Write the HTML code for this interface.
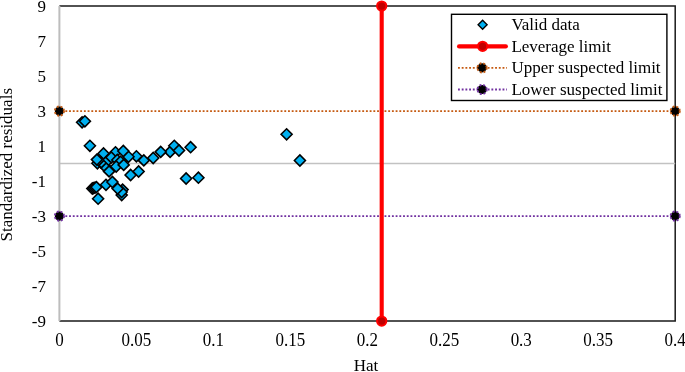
<!DOCTYPE html>
<html><head><meta charset="utf-8"><style>
html,body{margin:0;padding:0;background:#fff;width:685px;height:372px;overflow:hidden}
svg{display:block;-webkit-font-smoothing:antialiased;will-change:transform;font-family:"Liberation Serif",serif;fill:#000}
text{fill:#000}
</style></head><body>
<svg width="685" height="372" viewBox="0 0 685 372">
<rect width="685" height="372" fill="#fff"/>
<path d="M59.40 6.10 H675.20 V321.10 H59.40" fill="none" stroke="#1a1a1a" stroke-width="1.5"/>
<line x1="59.4" y1="163.5" x2="675.2" y2="163.5" stroke="#c2c2c2" stroke-width="1.5"/>
<line x1="59.4" y1="6.10" x2="59.4" y2="321.10" stroke="#bdbdbd" stroke-width="2"/>
<line x1="59.4" y1="111.10" x2="675.2" y2="111.10" stroke="#c55a11" stroke-width="1.9" stroke-dasharray="1.86 1.851" stroke-dashoffset="1.46"/>
<line x1="59.4" y1="216.10" x2="675.2" y2="216.10" stroke="#7030a0" stroke-width="1.9" stroke-dasharray="1.86 1.851" stroke-dashoffset="1.46"/>
<path d="M76.60 122.30 L82.10 116.80 L87.60 122.30 L82.10 127.80Z" fill="#00b0f0" stroke="#000" stroke-width="1.6" stroke-linejoin="miter"/>
<path d="M79.40 121.30 L84.90 115.80 L90.40 121.30 L84.90 126.80Z" fill="#00b0f0" stroke="#000" stroke-width="1.6" stroke-linejoin="miter"/>
<path d="M84.40 145.80 L89.90 140.30 L95.40 145.80 L89.90 151.30Z" fill="#00b0f0" stroke="#000" stroke-width="1.6" stroke-linejoin="miter"/>
<path d="M281.10 134.30 L286.60 128.80 L292.10 134.30 L286.60 139.80Z" fill="#00b0f0" stroke="#000" stroke-width="1.6" stroke-linejoin="miter"/>
<path d="M294.40 160.50 L299.90 155.00 L305.40 160.50 L299.90 166.00Z" fill="#00b0f0" stroke="#000" stroke-width="1.6" stroke-linejoin="miter"/>
<path d="M180.60 178.50 L186.10 173.00 L191.60 178.50 L186.10 184.00Z" fill="#00b0f0" stroke="#000" stroke-width="1.6" stroke-linejoin="miter"/>
<path d="M192.90 177.70 L198.40 172.20 L203.90 177.70 L198.40 183.20Z" fill="#00b0f0" stroke="#000" stroke-width="1.6" stroke-linejoin="miter"/>
<path d="M185.10 147.20 L190.60 141.70 L196.10 147.20 L190.60 152.70Z" fill="#00b0f0" stroke="#000" stroke-width="1.6" stroke-linejoin="miter"/>
<path d="M164.60 151.90 L170.10 146.40 L175.60 151.90 L170.10 157.40Z" fill="#00b0f0" stroke="#000" stroke-width="1.6" stroke-linejoin="miter"/>
<path d="M168.80 145.80 L174.30 140.30 L179.80 145.80 L174.30 151.30Z" fill="#00b0f0" stroke="#000" stroke-width="1.6" stroke-linejoin="miter"/>
<path d="M173.50 150.50 L179.00 145.00 L184.50 150.50 L179.00 156.00Z" fill="#00b0f0" stroke="#000" stroke-width="1.6" stroke-linejoin="miter"/>
<path d="M155.20 151.90 L160.70 146.40 L166.20 151.90 L160.70 157.40Z" fill="#00b0f0" stroke="#000" stroke-width="1.6" stroke-linejoin="miter"/>
<path d="M147.70 158.00 L153.20 152.50 L158.70 158.00 L153.20 163.50Z" fill="#00b0f0" stroke="#000" stroke-width="1.6" stroke-linejoin="miter"/>
<path d="M138.30 160.40 L143.80 154.90 L149.30 160.40 L143.80 165.90Z" fill="#00b0f0" stroke="#000" stroke-width="1.6" stroke-linejoin="miter"/>
<path d="M130.90 156.30 L136.40 150.80 L141.90 156.30 L136.40 161.80Z" fill="#00b0f0" stroke="#000" stroke-width="1.6" stroke-linejoin="miter"/>
<path d="M123.00 156.80 L128.50 151.30 L134.00 156.80 L128.50 162.30Z" fill="#00b0f0" stroke="#000" stroke-width="1.6" stroke-linejoin="miter"/>
<path d="M110.00 152.30 L115.50 146.80 L121.00 152.30 L115.50 157.80Z" fill="#00b0f0" stroke="#000" stroke-width="1.6" stroke-linejoin="miter"/>
<path d="M117.80 151.00 L123.30 145.50 L128.80 151.00 L123.30 156.50Z" fill="#00b0f0" stroke="#000" stroke-width="1.6" stroke-linejoin="miter"/>
<path d="M98.00 153.50 L103.50 148.00 L109.00 153.50 L103.50 159.00Z" fill="#00b0f0" stroke="#000" stroke-width="1.6" stroke-linejoin="miter"/>
<path d="M91.90 163.30 L97.40 157.80 L102.90 163.30 L97.40 168.80Z" fill="#00b0f0" stroke="#000" stroke-width="1.6" stroke-linejoin="miter"/>
<path d="M95.60 162.70 L101.10 157.20 L106.60 162.70 L101.10 168.20Z" fill="#00b0f0" stroke="#000" stroke-width="1.6" stroke-linejoin="miter"/>
<path d="M98.90 165.40 L104.40 159.90 L109.90 165.40 L104.40 170.90Z" fill="#00b0f0" stroke="#000" stroke-width="1.6" stroke-linejoin="miter"/>
<path d="M101.00 168.10 L106.50 162.60 L112.00 168.10 L106.50 173.60Z" fill="#00b0f0" stroke="#000" stroke-width="1.6" stroke-linejoin="miter"/>
<path d="M103.60 171.40 L109.10 165.90 L114.60 171.40 L109.10 176.90Z" fill="#00b0f0" stroke="#000" stroke-width="1.6" stroke-linejoin="miter"/>
<path d="M91.40 159.60 L96.90 154.10 L102.40 159.60 L96.90 165.10Z" fill="#00b0f0" stroke="#000" stroke-width="1.6" stroke-linejoin="miter"/>
<path d="M103.10 159.80 L108.60 154.30 L114.10 159.80 L108.60 165.30Z" fill="#00b0f0" stroke="#000" stroke-width="1.6" stroke-linejoin="miter"/>
<path d="M105.80 157.40 L111.30 151.90 L116.80 157.40 L111.30 162.90Z" fill="#00b0f0" stroke="#000" stroke-width="1.6" stroke-linejoin="miter"/>
<path d="M111.80 160.00 L117.30 154.50 L122.80 160.00 L117.30 165.50Z" fill="#00b0f0" stroke="#000" stroke-width="1.6" stroke-linejoin="miter"/>
<path d="M115.00 161.70 L120.50 156.20 L126.00 161.70 L120.50 167.20Z" fill="#00b0f0" stroke="#000" stroke-width="1.6" stroke-linejoin="miter"/>
<path d="M110.70 166.50 L116.20 161.00 L121.70 166.50 L116.20 172.00Z" fill="#00b0f0" stroke="#000" stroke-width="1.6" stroke-linejoin="miter"/>
<path d="M118.20 164.90 L123.70 159.40 L129.20 164.90 L123.70 170.40Z" fill="#00b0f0" stroke="#000" stroke-width="1.6" stroke-linejoin="miter"/>
<path d="M125.10 175.00 L130.60 169.50 L136.10 175.00 L130.60 180.50Z" fill="#00b0f0" stroke="#000" stroke-width="1.6" stroke-linejoin="miter"/>
<path d="M133.10 171.50 L138.60 166.00 L144.10 171.50 L138.60 177.00Z" fill="#00b0f0" stroke="#000" stroke-width="1.6" stroke-linejoin="miter"/>
<path d="M86.80 188.50 L92.30 183.00 L97.80 188.50 L92.30 194.00Z" fill="#00b0f0" stroke="#000" stroke-width="1.6" stroke-linejoin="miter"/>
<path d="M88.10 188.10 L93.60 182.60 L99.10 188.10 L93.60 193.60Z" fill="#00b0f0" stroke="#000" stroke-width="1.6" stroke-linejoin="miter"/>
<path d="M89.50 187.60 L95.00 182.10 L100.50 187.60 L95.00 193.10Z" fill="#00b0f0" stroke="#000" stroke-width="1.6" stroke-linejoin="miter"/>
<path d="M90.90 187.10 L96.40 181.60 L101.90 187.10 L96.40 192.60Z" fill="#00b0f0" stroke="#000" stroke-width="1.6" stroke-linejoin="miter"/>
<path d="M100.50 184.80 L106.00 179.30 L111.50 184.80 L106.00 190.30Z" fill="#00b0f0" stroke="#000" stroke-width="1.6" stroke-linejoin="miter"/>
<path d="M106.90 182.00 L112.40 176.50 L117.90 182.00 L112.40 187.50Z" fill="#00b0f0" stroke="#000" stroke-width="1.6" stroke-linejoin="miter"/>
<path d="M116.20 195.10 L121.70 189.60 L127.20 195.10 L121.70 200.60Z" fill="#00b0f0" stroke="#000" stroke-width="1.6" stroke-linejoin="miter"/>
<path d="M117.10 189.60 L122.60 184.10 L128.10 189.60 L122.60 195.10Z" fill="#00b0f0" stroke="#000" stroke-width="1.6" stroke-linejoin="miter"/>
<path d="M116.10 192.00 L121.60 186.50 L127.10 192.00 L121.60 197.50Z" fill="#00b0f0" stroke="#000" stroke-width="1.6" stroke-linejoin="miter"/>
<path d="M112.10 188.60 L117.60 183.10 L123.10 188.60 L117.60 194.10Z" fill="#00b0f0" stroke="#000" stroke-width="1.6" stroke-linejoin="miter"/>
<path d="M92.60 198.70 L98.10 193.20 L103.60 198.70 L98.10 204.20Z" fill="#00b0f0" stroke="#000" stroke-width="1.6" stroke-linejoin="miter"/>
<circle cx="59.4" cy="111.10" r="4.6" fill="#000" stroke="#c55a11" stroke-width="1.9" stroke-dasharray="1.86 1.851"/>
<circle cx="675.2" cy="111.10" r="4.6" fill="#000" stroke="#c55a11" stroke-width="1.9" stroke-dasharray="1.86 1.851"/>
<circle cx="59.4" cy="216.10" r="4.6" fill="#000" stroke="#7030a0" stroke-width="1.9" stroke-dasharray="1.86 1.851"/>
<circle cx="675.2" cy="216.10" r="4.6" fill="#000" stroke="#7030a0" stroke-width="1.9" stroke-dasharray="1.86 1.851"/>
<line x1="381.7" y1="6.10" x2="381.7" y2="321.10" stroke="#ff0000" stroke-width="4.1"/>
<circle cx="381.7" cy="6.10" r="4.65" fill="#c00000" stroke="#ff0000" stroke-width="2"/>
<circle cx="381.7" cy="321.10" r="4.65" fill="#c00000" stroke="#ff0000" stroke-width="2"/>
<rect x="451.5" y="14.3" width="215.39999999999998" height="86.2" fill="#fff" stroke="#000" stroke-width="1.4"/>
<path d="M478.10 24.85 L482.60 20.35 L487.10 24.85 L482.60 29.35Z" fill="#00b0f0" stroke="#000" stroke-width="1.4"/>
<line x1="459.1" y1="46.4" x2="505.8" y2="46.4" stroke="#ff0000" stroke-width="4.3" stroke-linecap="round"/>
<circle cx="482.6" cy="46.3" r="4.65" fill="#c00000" stroke="#ff0000" stroke-width="2"/>
<line x1="458.0" y1="67.85" x2="507" y2="67.85" stroke="#c55a11" stroke-width="1.9" stroke-dasharray="1.86 1.851"/>
<circle cx="482.1" cy="67.85" r="4.6" fill="#000" stroke="#c55a11" stroke-width="1.9" stroke-dasharray="1.86 1.851"/>
<line x1="458.0" y1="89.5" x2="507" y2="89.5" stroke="#7030a0" stroke-width="1.9" stroke-dasharray="1.86 1.851"/>
<circle cx="482.1" cy="89.5" r="4.6" fill="#000" stroke="#7030a0" stroke-width="1.9" stroke-dasharray="1.86 1.851"/>
<text x="511.4" y="30.0" font-size="17">Valid data</text>
<text x="511.4" y="51.5" font-size="17">Leverage limit</text>
<text x="511.4" y="73.0" font-size="17">Upper suspected limit</text>
<text x="511.4" y="94.5" font-size="17">Lower suspected limit</text>
<text transform="translate(46 12.00) scale(1 1.03)" font-size="17" text-anchor="end">9</text>
<text transform="translate(46 47.00) scale(1 1.03)" font-size="17" text-anchor="end">7</text>
<text transform="translate(46 82.00) scale(1 1.03)" font-size="17" text-anchor="end">5</text>
<text transform="translate(46 117.00) scale(1 1.03)" font-size="17" text-anchor="end">3</text>
<text transform="translate(46 152.00) scale(1 1.03)" font-size="17" text-anchor="end">1</text>
<text transform="translate(46 187.00) scale(1 1.03)" font-size="17" text-anchor="end">-1</text>
<text transform="translate(46 222.00) scale(1 1.03)" font-size="17" text-anchor="end">-3</text>
<text transform="translate(46 257.00) scale(1 1.03)" font-size="17" text-anchor="end">-5</text>
<text transform="translate(46 292.00) scale(1 1.03)" font-size="17" text-anchor="end">-7</text>
<text transform="translate(46 327.00) scale(1 1.03)" font-size="17" text-anchor="end">-9</text>
<text transform="translate(59.40 345.6) scale(1 1.05)" font-size="17" text-anchor="middle">0</text>
<text transform="translate(136.38 345.6) scale(1 1.05)" font-size="17" text-anchor="middle">0.05</text>
<text transform="translate(213.35 345.6) scale(1 1.05)" font-size="17" text-anchor="middle">0.1</text>
<text transform="translate(290.33 345.6) scale(1 1.05)" font-size="17" text-anchor="middle">0.15</text>
<text transform="translate(367.30 345.6) scale(1 1.05)" font-size="17" text-anchor="middle">0.2</text>
<text transform="translate(444.27 345.6) scale(1 1.05)" font-size="17" text-anchor="middle">0.25</text>
<text transform="translate(521.25 345.6) scale(1 1.05)" font-size="17" text-anchor="middle">0.3</text>
<text transform="translate(598.23 345.6) scale(1 1.05)" font-size="17" text-anchor="middle">0.35</text>
<text transform="translate(675.20 345.6) scale(1 1.05)" font-size="17" text-anchor="middle">0.4</text>
<text x="366" y="371.3" font-size="17" text-anchor="middle">Hat</text>
<text transform="translate(12.0 164.7) rotate(-90)" x="0" y="0" font-size="17" text-anchor="middle">Standardized residuals</text>
</svg>
</body></html>
